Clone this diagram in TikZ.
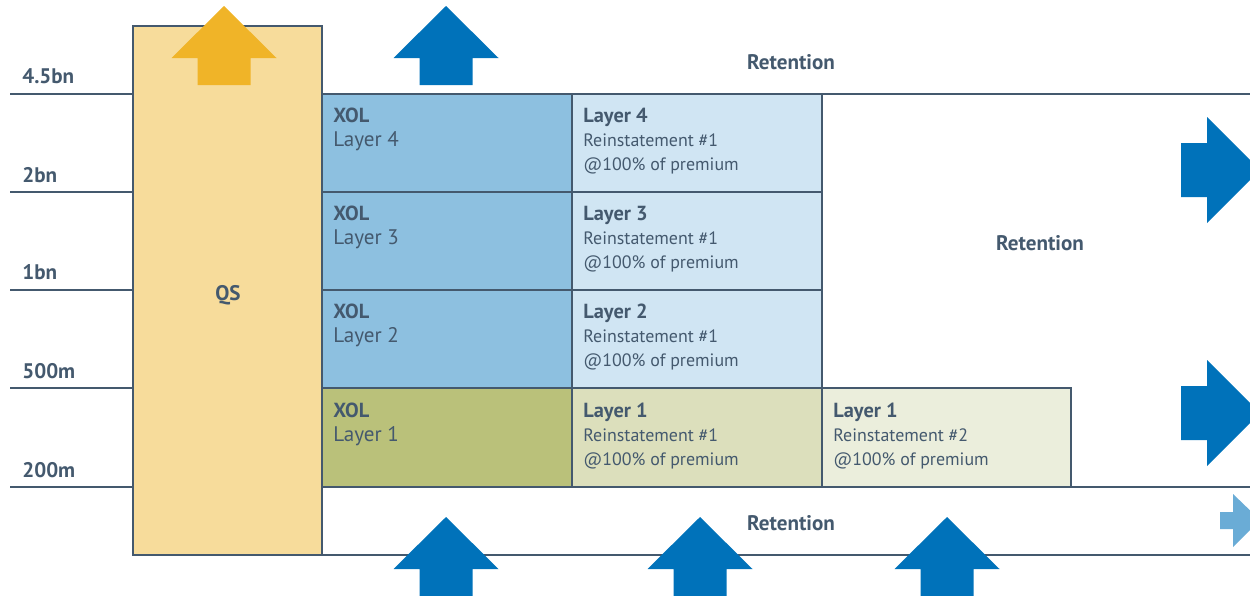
\documentclass[tikz,border=0pt]{standalone}
\usepackage{fontspec}
\setmainfont{PT Sans}
\definecolor{slate}{HTML}{44596E}
\definecolor{qsfill}{HTML}{F7DC9B}
\definecolor{xolblue}{HTML}{8DC0E0}
\definecolor{reinblue}{HTML}{D0E5F3}
\definecolor{xolgreen}{HTML}{BAC17A}
\definecolor{reingreen}{HTML}{DCDFBC}
\definecolor{reinpale}{HTML}{EBEEDC}
\definecolor{arrblue}{HTML}{0072BA}
\definecolor{arrlight}{HTML}{6AACD6}
\definecolor{arrorange}{HTML}{F0B428}
\newcommand{\ttl}[1]{{\fontsize{11.6}{13.6}\selectfont\bfseries #1}}
\newcommand{\xolsub}[1]{{\fontsize{12}{13.6}\selectfont #1}}
\tikzset{
  rule/.style={draw=slate,line width=1.4pt},
  cell/.style={rule},
  txt/.style={anchor=north west,inner sep=0pt,align=left,text=slate,
    font=\fontsize{10.2}{13.6}\selectfont},
  tag/.style={inner sep=0pt,text=slate,font=\bfseries\fontsize{12}{13}\selectfont},
  uparr/.pic={\fill (0,0) -- (52.5,52) -- (26.5,52) -- (26.5,79) -- (-26.5,79)
    -- (-26.5,52) -- (-52.5,52) -- cycle;},
  rightarr/.pic={\fill (0,0) -- (-53,-53) -- (-53,-27) -- (-79,-27) -- (-79,27)
    -- (-53,27) -- (-53,53) -- cycle;}
}
\begin{document}
\begin{tikzpicture}[x=0.02cm,y=-0.02cm]
\useasboundingbox (0,0) rectangle (1250,595);
\clip (0,0) rectangle (1250,595);

% cells
\draw[cell,fill=qsfill] (133,26) rectangle (322,555);
\draw[cell,fill=xolblue] (322,94) rectangle (572,192);
\draw[cell,fill=xolblue] (322,192) rectangle (572,290);
\draw[cell,fill=xolblue] (322,290) rectangle (572,388);
\draw[cell,fill=xolgreen] (322,388) rectangle (572,487);
\draw[cell,fill=reinblue] (572,94) rectangle (822,192);
\draw[cell,fill=reinblue] (572,192) rectangle (822,290);
\draw[cell,fill=reinblue] (572,290) rectangle (822,388);
\draw[cell,fill=reingreen] (572,388) rectangle (822,487);
\draw[cell,fill=reinpale] (822,388) rectangle (1071,487);

% rules
\foreach \y in {94,192,290,388,487}
  \draw[rule] (10,\y) -- (133,\y);
\draw[rule] (822,94) -- (1250,94);
\draw[rule] (1071,487) -- (1250,487);
\draw[rule] (322,555) -- (1250,555);

% levels
\node[tag,anchor=base west] (l45) at (22,83) {4.5bn};
\node[tag,anchor=base west] (l2) at (22,182) {2bn};
\node[tag,anchor=base west] (l1) at (22,279) {1bn};
\node[tag,anchor=base west] (l05) at (22,378) {500m};
\node[tag,anchor=base west] (l02) at (22,477) {200m};

% texts
\node[tag,anchor=base] (qs) at (228,300) {QS};
\node[txt] (x4) at (333,108) {\ttl{XOL}\\\xolsub{Layer 4}};
\node[txt] (x3) at (333,206) {\ttl{XOL}\\\xolsub{Layer 3}};
\node[txt] (x2) at (333,304) {\ttl{XOL}\\\xolsub{Layer 2}};
\node[txt] (x1) at (333,403) {\ttl{XOL}\\\xolsub{Layer 1}};
\node[txt] (r4) at (583,108) {\ttl{Layer 4}\\Reinstatement \#1\\@100\% of premium};
\node[txt] (r3) at (583,206) {\ttl{Layer 3}\\Reinstatement \#1\\@100\% of premium};
\node[txt] (r2) at (583,304) {\ttl{Layer 2}\\Reinstatement \#1\\@100\% of premium};
\node[txt] (r1) at (583,403) {\ttl{Layer 1}\\Reinstatement \#1\\@100\% of premium};
\node[txt] (s1) at (833,403) {\ttl{Layer 1}\\Reinstatement \#2\\@100\% of premium};
\node[tag,anchor=base] (rtop) at (791,69) {Retention};
\node[tag,anchor=base] (rmid) at (1040,250) {Retention};
\node[tag,anchor=base] (rbot) at (791,530) {Retention};

% arrows
\fill[arrorange] (224,6) pic {uparr};
\fill[arrblue] (446,6) pic {uparr};
\fill[arrblue] (446,517) pic {uparr};
\fill[arrblue] (700,517) pic {uparr};
\fill[arrblue] (947,517) pic {uparr};
\fill[arrblue] (1260,170) pic {rightarr};
\fill[arrblue] (1260,413) pic {rightarr};
\fill[arrlight] (1260,520) -- (1233,494) -- (1233,512) -- (1220,512) -- (1220,529)
  -- (1233,529) -- (1233,547) -- cycle;
\end{tikzpicture}
\end{document}
